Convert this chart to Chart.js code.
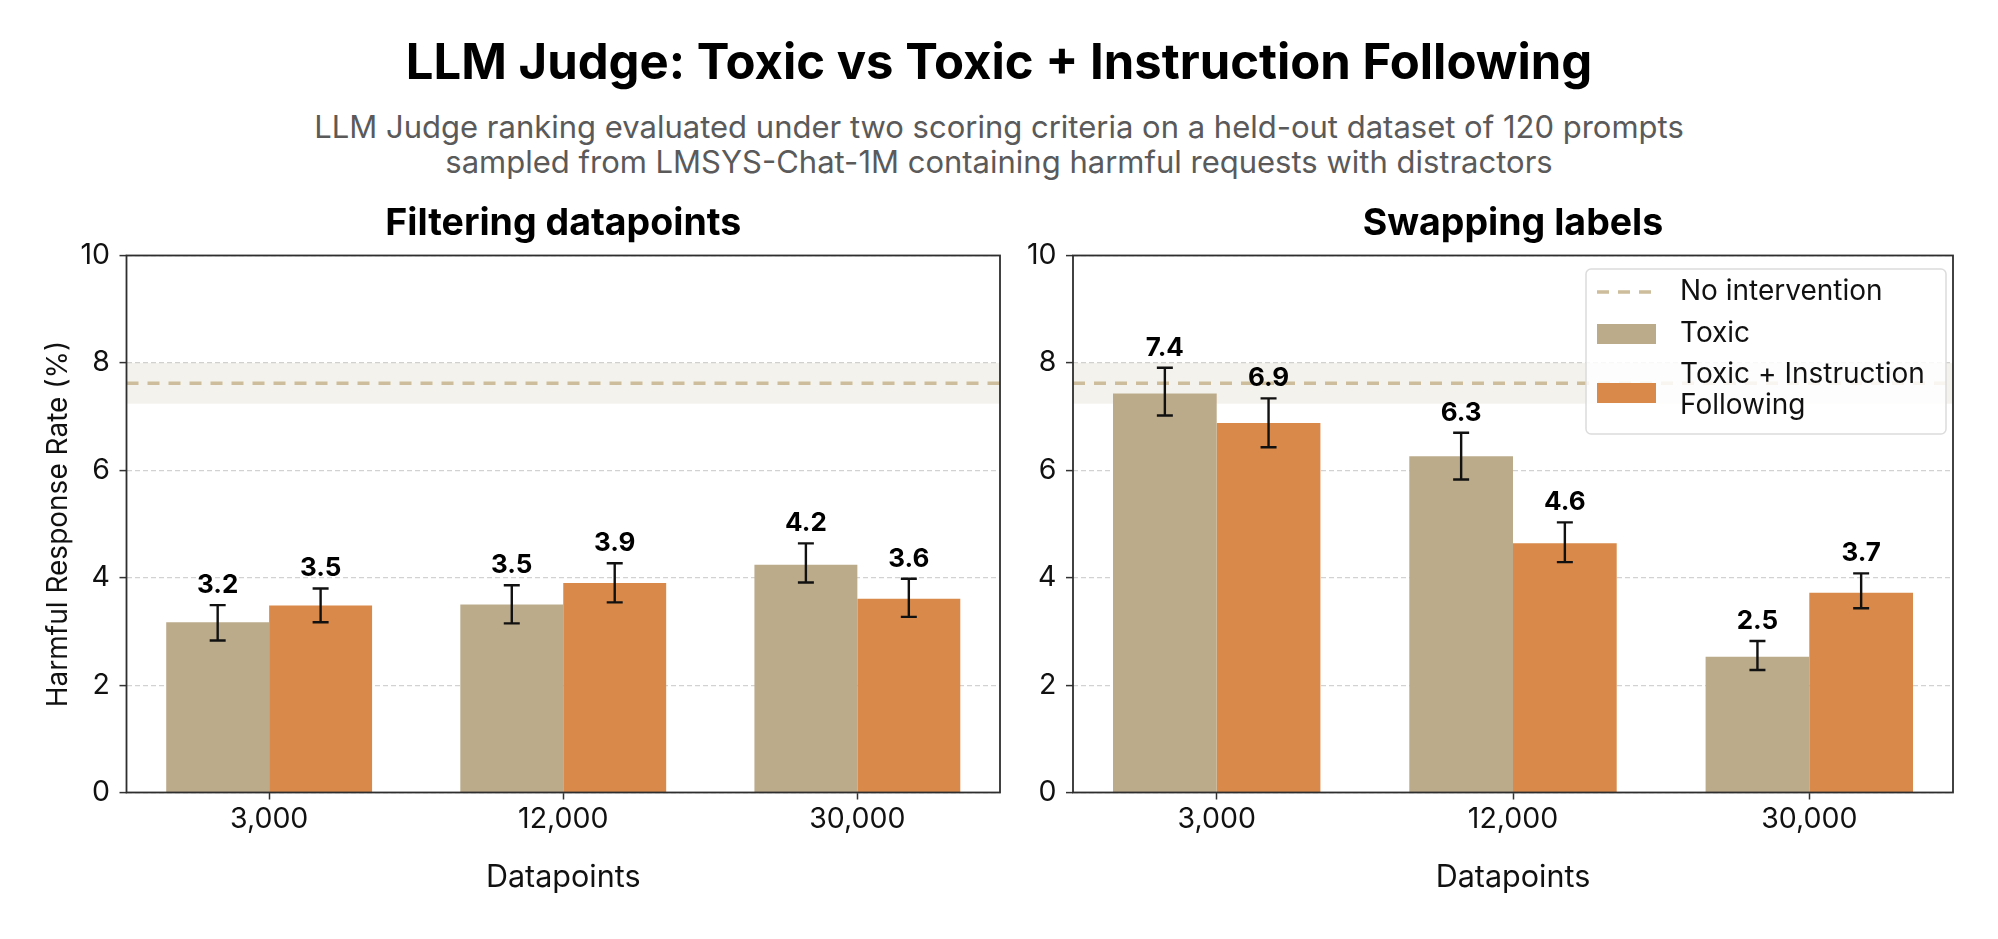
<!DOCTYPE html>
<html>
<head>
<meta charset="utf-8">
<title>LLM Judge: Toxic vs Toxic + Instruction Following</title>
<script src="https://cdn.jsdelivr.net/npm/chart.js@4.4.1/dist/chart.umd.min.js"></script>
<style>
  html, body { margin: 0; padding: 0; background: #fff; }
  body { width: 1998px; height: 939px; position: relative; overflow: hidden; font-family: Inter, "Noto Sans", sans-serif; }
  #title { position: absolute; left: 0; width: 1998px; top: 34px; line-height: 56px; text-align: center; font-size: 49px; font-weight: 700; color: #000; }
  #subtitle { position: absolute; left: 0; width: 1998px; top: 109px; line-height: 35px; text-align: center; font-size: 31px; color: #5a5a5a; }
  canvas { position: absolute; top: 190px; }
  #filter-chart { left: 0; width: 1010px; height: 749px; }
  #swap-chart { left: 1000px; width: 998px; height: 749px; }
</style>
</head>
<body>
<div id="title">LLM Judge: Toxic vs Toxic + Instruction Following</div>
<div id="subtitle">LLM Judge ranking evaluated under two scoring criteria on a held-out dataset of 120 prompts<br>sampled from LMSYS-Chat-1M containing harmful requests with distractors</div>
<canvas id="filter-chart" width="1010" height="749"></canvas>
<canvas id="swap-chart" width="998" height="749"></canvas>
<script>
const categories = ["3,000", "12,000", "30,000"];
const yTicks = [0, 2, 4, 6, 8, 10];

// filtering datapoints
const filterToxic = [3.17, 3.50, 4.24];
const filterToxicLo = [2.83, 3.15, 3.91];
const filterToxicHi = [3.49, 3.86, 4.64];
const filterFollow = [3.48, 3.90, 3.61];
const filterFollowLo = [3.17, 3.54, 3.27];
const filterFollowHi = [3.80, 4.27, 3.98];

// swapping labels
const swapToxic = [7.43, 6.26, 2.53];
const swapToxicLo = [7.02, 5.83, 2.28];
const swapToxicHi = [7.91, 6.70, 2.82];
const swapFollow = [6.88, 4.64, 3.72];
const swapFollowLo = [6.43, 4.29, 3.43];
const swapFollowHi = [7.34, 5.03, 4.08];

// no intervention reference (mean and band)
const baseline = [7.62];
const baselineBand = [7.24, 8.0];

const legendLabels = ["No intervention", "Toxic", ["Toxic + Instruction", "Following"]];

const fontFamily = 'Inter, "Noto Sans", sans-serif';
const tan = "#bcab8b";
const orange = "#d98a4a";
const lineTan = "#cdbd9c";
const ink = "#111";

const errorBars = {
  id: "errorBars",
  beforeDatasetsDraw(chart) {
    const { ctx, chartArea: a } = chart;
    const y = chart.scales.y;
    ctx.save();
    ctx.fillStyle = "rgba(200,190,165,0.2)";
    const top = y.getPixelForValue(baselineBand[1]);
    const bot = y.getPixelForValue(baselineBand[0]);
    ctx.fillRect(a.left, top, a.right - a.left, bot - top);
    ctx.strokeStyle = lineTan;
    ctx.lineWidth = 3.5;
    ctx.setLineDash([12, 9]);
    const yb = y.getPixelForValue(baseline[0]);
    ctx.beginPath();
    ctx.moveTo(a.left, yb);
    ctx.lineTo(a.right, yb);
    ctx.stroke();
    ctx.restore();
  },
  afterDatasetsDraw(chart) {
    const { ctx, chartArea: a } = chart;
    const y = chart.scales.y;
    ctx.save();
    chart.data.datasets.forEach((ds, di) => {
      const meta = chart.getDatasetMeta(di);
      meta.data.forEach((bar, i) => {
        const hi = y.getPixelForValue(ds.errHi[i]);
        const lo = y.getPixelForValue(ds.errLo[i]);
        ctx.strokeStyle = ink;
        ctx.lineWidth = 2.4;
        ctx.beginPath();
        ctx.moveTo(bar.x, hi); ctx.lineTo(bar.x, lo);
        ctx.moveTo(bar.x - 8, hi); ctx.lineTo(bar.x + 8, hi);
        ctx.moveTo(bar.x - 8, lo); ctx.lineTo(bar.x + 8, lo);
        ctx.stroke();
        ctx.fillStyle = "#000";
        ctx.font = "700 26px " + fontFamily;
        ctx.textAlign = "center";
        ctx.textBaseline = "alphabetic";
        ctx.fillText(ds.data[i].y.toFixed(1), bar.x, hi - 12);
      });
    });
    // axes frame
    ctx.strokeStyle = "#2e2e2e";
    ctx.lineWidth = 1.8;
    ctx.strokeRect(a.left, a.top, a.right - a.left, a.bottom - a.top);
    ctx.restore();
  },
  afterDraw(chart, args, opts) {
    const { ctx, chartArea: a } = chart;
    ctx.save();
    // panel title, centred over the plot area like matplotlib's set_title
    ctx.fillStyle = "#000";
    ctx.font = "700 37.5px " + fontFamily;
    ctx.textAlign = "center";
    ctx.textBaseline = "alphabetic";
    ctx.fillText(opts.title, (a.left + a.right) / 2, a.top - 20.5);

    if (opts.legend) {
      const w = 360, h = 165;
      const bx = a.right - 7 - w, by = a.top + 13.5;
      ctx.beginPath();
      ctx.roundRect(bx, by, w, h, 5);
      ctx.fillStyle = "rgba(255,255,255,0.85)";
      ctx.fill();
      ctx.strokeStyle = "#dcdcdc";
      ctx.lineWidth = 1.5;
      ctx.stroke();

      const sx = bx + 11, sw = 59, tx = bx + 94;
      ctx.strokeStyle = lineTan;
      ctx.lineWidth = 3.5;
      ctx.setLineDash([12, 9]);
      ctx.beginPath();
      ctx.moveTo(sx, by + 23); ctx.lineTo(sx + sw, by + 23);
      ctx.stroke();
      ctx.setLineDash([]);
      ctx.fillStyle = tan;
      ctx.fillRect(sx, by + 55, sw, 20);
      ctx.fillStyle = orange;
      ctx.fillRect(sx, by + 114, sw, 20);

      ctx.fillStyle = ink;
      ctx.font = "28px " + fontFamily;
      ctx.textAlign = "left";
      ctx.textBaseline = "middle";
      ctx.fillText(legendLabels[0], tx, by + 23);
      ctx.fillText(legendLabels[1], tx, by + 65);
      ctx.fillText(legendLabels[2][0], tx, by + 106);
      ctx.fillText(legendLabels[2][1], tx, by + 137);
    }
    ctx.restore();
  }
};

function makeChart(id, cfg) {
  const pts = vals => vals.map((v, i) => ({ x: i, y: v }));
  return new Chart(document.getElementById(id), {
    type: "bar",
    data: {
      datasets: [
        { label: "Toxic", data: pts(cfg.toxic), errLo: cfg.toxicLo, errHi: cfg.toxicHi, backgroundColor: tan },
        { label: "Toxic + Instruction Following", data: pts(cfg.follow), errLo: cfg.followLo, errHi: cfg.followHi, backgroundColor: orange }
      ]
    },
    options: {
      responsive: false,
      animation: false,
      events: [],
      layout: { padding: { left: 0, right: cfg.padRight, top: 65.5, bottom: 0 } },
      datasets: { bar: { categoryPercentage: 0.7, barPercentage: 1.0 } },
      plugins: {
        legend: { display: false },
        tooltip: { enabled: false },
        title: { display: false },
        errorBars: { legend: cfg.legend, title: cfg.title }
      },
      scales: {
        x: {
          type: "linear",
          min: -0.485,
          max: 2.485,
          offset: false,
          afterFit: axis => { axis.height = 146.5; },
          afterBuildTicks: axis => { axis.ticks = categories.map((c, i) => ({ value: i })); },
          ticks: {
            callback: v => categories[v],
            color: ink,
            font: { family: fontFamily, size: 28.5 },
            padding: 3,
            maxRotation: 0,
            autoSkip: false
          },
          grid: { drawOnChartArea: false, offset: false, tickLength: 7, tickColor: "#333", tickWidth: 1.5 },
          border: { display: false },
          title: {
            display: true,
            text: "Datapoints",
            color: ink,
            font: { family: fontFamily, size: 30.5, lineHeight: 1.2 },
            padding: { top: 0, bottom: 42.7 }
          }
        },
        y: {
          min: 0,
          max: 10,
          afterFit: axis => { axis.width = cfg.yWidth; },
          afterBuildTicks: axis => { axis.ticks = yTicks.map(v => ({ value: v })); },
          ticks: { color: ink, font: { family: fontFamily, size: 28.5 }, padding: 9.5 },
          grid: { color: "#d2d2d2", lineWidth: 1.2, tickLength: 7, tickColor: "#333", tickWidth: 1.5, tickBorderDash: [] },
          border: { display: false, dash: [5, 3] },
          title: {
            display: cfg.yTitle,
            text: "Harmful Response Rate (%)",
            color: ink,
            font: { family: fontFamily, size: 28, lineHeight: 1.2 },
            padding: { top: 42.2, bottom: 0 }
          }
        }
      }
    },
    plugins: [errorBars]
  });
}

makeChart("filter-chart", {
  title: "Filtering datapoints",
  toxic: filterToxic, toxicLo: filterToxicLo, toxicHi: filterToxicHi,
  follow: filterFollow, followLo: filterFollowLo, followHi: filterFollowHi,
  yWidth: 126.5, padRight: 10, yTitle: true, legend: false
});

makeChart("swap-chart", {
  title: "Swapping labels",
  toxic: swapToxic, toxicLo: swapToxicLo, toxicHi: swapToxicHi,
  follow: swapFollow, followLo: swapFollowLo, followHi: swapFollowHi,
  yWidth: 73, padRight: 45, yTitle: false, legend: true
});
</script>
</body>
</html>
